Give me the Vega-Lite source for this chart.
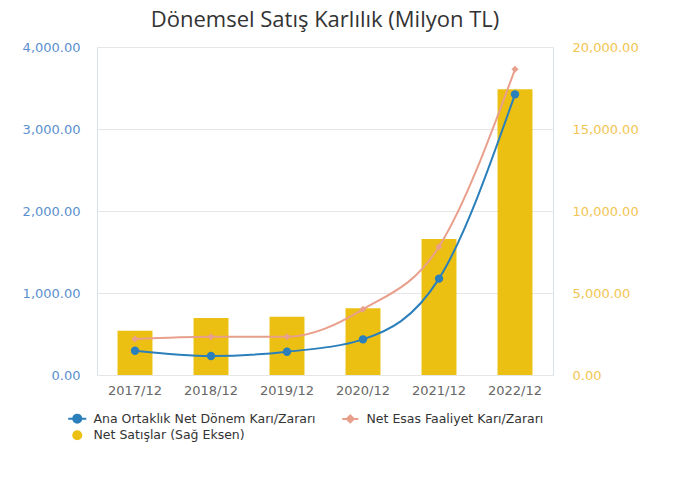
{
  "$schema": "https://vega.github.io/schema/vega-lite/v6.json",
  "width": 456,
  "height": 328,
  "autosize": {"type": "none"},
  "padding": {"left": 97, "top": 47, "right": 123, "bottom": 107},
  "background": "white",
  "title": {"text": "Dönemsel Satış Karlılık (Milyon TL)", "anchor": "middle", "font": "Open Sans", "fontSize": 22, "fontWeight": "normal", "color": "#333333", "offset": 9},
  "datasets": {
    "sales": [
      {"period": "2017/12", "series": "Net Satışlar (Sağ Eksen)", "value": 2700},
      {"period": "2018/12", "series": "Net Satışlar (Sağ Eksen)", "value": 3475},
      {"period": "2019/12", "series": "Net Satışlar (Sağ Eksen)", "value": 3555},
      {"period": "2020/12", "series": "Net Satışlar (Sağ Eksen)", "value": 4065},
      {"period": "2021/12", "series": "Net Satışlar (Sağ Eksen)", "value": 8290},
      {"period": "2022/12", "series": "Net Satışlar (Sağ Eksen)", "value": 17420}
    ],
    "profit": [
      {"period": "2017/12", "series": "Net Esas Faaliyet Karı/Zararı", "value": 439},
      {"period": "2018/12", "series": "Net Esas Faaliyet Karı/Zararı", "value": 467},
      {"period": "2019/12", "series": "Net Esas Faaliyet Karı/Zararı", "value": 467},
      {"period": "2020/12", "series": "Net Esas Faaliyet Karı/Zararı", "value": 801},
      {"period": "2021/12", "series": "Net Esas Faaliyet Karı/Zararı", "value": 1565},
      {"period": "2022/12", "series": "Net Esas Faaliyet Karı/Zararı", "value": 3728},
      {"period": "2017/12", "series": "Ana Ortaklık Net Dönem Karı/Zararı", "value": 296},
      {"period": "2018/12", "series": "Ana Ortaklık Net Dönem Karı/Zararı", "value": 232},
      {"period": "2019/12", "series": "Ana Ortaklık Net Dönem Karı/Zararı", "value": 284},
      {"period": "2020/12", "series": "Ana Ortaklık Net Dönem Karı/Zararı", "value": 435},
      {"period": "2021/12", "series": "Ana Ortaklık Net Dönem Karı/Zararı", "value": 1175},
      {"period": "2022/12", "series": "Ana Ortaklık Net Dönem Karı/Zararı", "value": 3423}
    ]
  },
  "encoding": {
    "x": {
      "field": "period", "type": "nominal", "title": null,
      "scale": {"paddingInner": 0.54, "paddingOuter": 0.27},
      "axis": {"labelAngle": 0, "ticks": false, "domain": false, "labelPadding": 9, "labelFont": "DejaVu Sans", "labelFontSize": 13, "labelColor": "#666666"}
    },
    "color": {
      "field": "series", "type": "nominal",
      "scale": {
        "domain": ["Ana Ortaklık Net Dönem Karı/Zararı", "Net Esas Faaliyet Karı/Zararı", "Net Satışlar (Sağ Eksen)"],
        "range": ["#2b7fbb", "#e8a08c", "#ecc012"]
      },
      "legend": {
        "title": null,
        "orient": "none",
        "legendX": -26,
        "legendY": 365,
        "direction": "horizontal",
        "columns": 2,
        "columnPadding": 22,
        "rowPadding": 2,
        "symbolSize": 100,
        "labelOffset": 10,
        "labelLimit": 320,
        "labelFont": "DejaVu Sans",
        "labelFontSize": 12.5,
        "labelColor": "#333333",
        "encode": {
          "symbols": {
            "update": {
              "shape": {"signal": "datum.value === 'Net Satışlar (Sağ Eksen)' ? 'circle' : (datum.value === 'Net Esas Faaliyet Karı/Zararı' ? 'M-1.6,0L1.6,0M0,-0.7L0.7,0L0,0.7L-0.7,0Z' : 'M-1.8,0L1.8,0M-0.8,0A0.8,0.8,0,1,1,0.8,0A0.8,0.8,0,1,1,-0.8,0Z')"},
              "stroke": {"signal": "scale('color', datum.value)"},
              "fill": {"signal": "scale('color', datum.value)"},
              "strokeWidth": {"signal": "datum.value === 'Net Satışlar (Sağ Eksen)' ? 0 : 2"}
            }
          }
        }
      }
    }
  },
  "layer": [
    {
      "data": {"name": "sales"},
      "mark": {"type": "bar"},
      "encoding": {
        "y": {
          "field": "value", "type": "quantitative", "title": null,
          "scale": {"domain": [0, 20000], "nice": false},
          "axis": {"orient": "right", "values": [0, 5000, 10000, 15000, 20000], "format": ",.2f", "grid": false, "ticks": false, "domain": false, "labelPadding": 19, "labelFont": "DejaVu Sans", "labelFontSize": 13, "labelColor": "#f2c552"}
        }
      }
    },
    {
      "data": {"name": "profit"},
      "encoding": {
        "y": {
          "field": "value", "type": "quantitative", "title": null,
          "scale": {"domain": [0, 4000], "nice": false},
          "axis": {"orient": "left", "values": [0, 1000, 2000, 3000, 4000], "format": ",.2f", "grid": true, "gridColor": "#e6e6e6", "ticks": false, "domain": false, "labelPadding": 17, "labelFont": "DejaVu Sans", "labelFontSize": 13, "labelColor": "#5a8fd0"}
        }
      },
      "layer": [
        {"mark": {"type": "line", "interpolate": "monotone", "strokeWidth": 2}},
        {
          "mark": {"type": "point", "filled": true, "opacity": 1},
          "encoding": {
            "shape": {"field": "series", "type": "nominal", "scale": {"domain": ["Ana Ortaklık Net Dönem Karı/Zararı", "Net Esas Faaliyet Karı/Zararı"], "range": ["circle", "diamond"]}, "legend": null},
            "size": {"field": "series", "type": "nominal", "scale": {"domain": ["Ana Ortaklık Net Dönem Karı/Zararı", "Net Esas Faaliyet Karı/Zararı"], "range": [70, 50]}, "legend": null}
          }
        }
      ]
    }
  ],
  "resolve": {"scale": {"y": "independent"}},
  "config": {"view": {"stroke": "#d9e1ee"}, "font": "DejaVu Sans"}
}
